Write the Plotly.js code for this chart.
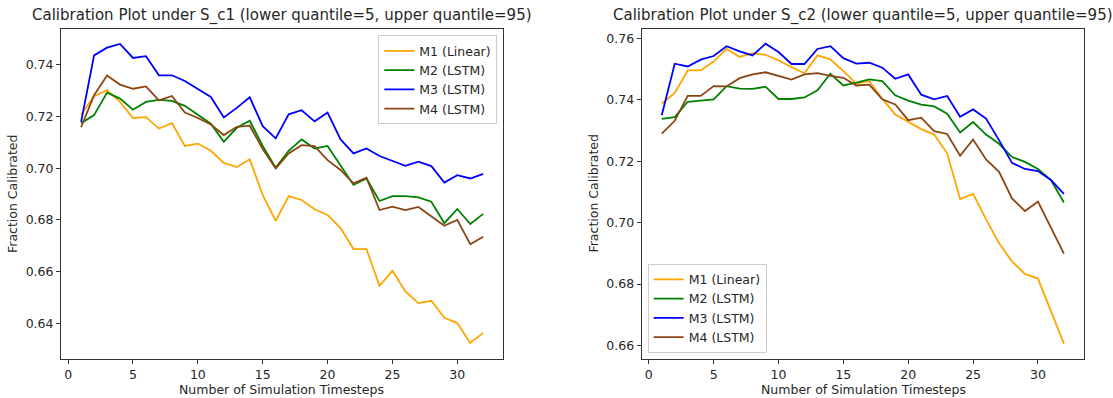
<!DOCTYPE html>
<html>
<head>
<meta charset="utf-8">
<script src="https://cdn.plot.ly/plotly-3.0.1.min.js"></script>
<style>
  html, body { margin: 0; padding: 0; background: #ffffff; }
  #chart { width: 1113px; height: 398px; }
</style>
</head>
<body>
<div id="chart"></div>
<script>
// Simulation timesteps 1..32
const timesteps = [1,2,3,4,5,6,7,8,9,10,11,12,13,14,15,16,17,18,19,20,21,22,23,24,25,26,27,28,29,30,31,32];

const seriesNames = ["M1 (Linear)", "M2 (LSTM)", "M3 (LSTM)", "M4 (LSTM)"];
const seriesColors = ["#ffa500", "#008000", "#0000ff", "#8b4513"];

// Fraction calibrated under S_c1
const c1_m1 = [0.7207,0.7278,0.7301,0.7256,0.7194,0.7197,0.7153,0.7174,0.7086,0.7095,0.7067,0.7020,0.7004,0.7034,0.6896,0.6796,
               0.6892,0.6877,0.6841,0.6819,0.6768,0.6687,0.6687,0.6545,0.6603,0.6523,0.6478,0.6487,0.6421,0.6401,0.6324,0.6363];
const c1_m2 = [0.7174,0.7205,0.7292,0.7269,0.7226,0.7256,0.7264,0.7260,0.7241,0.7205,0.7172,0.7102,0.7156,0.7183,0.7086,0.7002,
               0.7067,0.7111,0.7076,0.7086,0.7012,0.6935,0.6960,0.6873,0.6892,0.6892,0.6887,0.6870,0.6787,0.6842,0.6784,0.6823];
const c1_m3 = [0.7179,0.7436,0.7466,0.7480,0.7426,0.7433,0.7359,0.7359,0.7337,0.7307,0.7275,0.7196,0.7233,0.7274,0.7162,0.7115,
               0.7208,0.7224,0.7181,0.7215,0.7111,0.7057,0.7076,0.7047,0.7029,0.7009,0.7025,0.7008,0.6944,0.6973,0.6960,0.6978];
const c1_m4 = [0.7158,0.7282,0.7358,0.7323,0.7307,0.7316,0.7262,0.7279,0.7215,0.7194,0.7169,0.7128,0.7160,0.7164,0.7074,0.6999,
               0.7057,0.7089,0.7085,0.7031,0.6993,0.6941,0.6963,0.6838,0.6851,0.6838,0.6850,0.6813,0.6777,0.6800,0.6706,0.6735];

// Fraction calibrated under S_c2
const c2_m1 = [0.7388,0.7423,0.7496,0.7496,0.7525,0.7566,0.7540,0.7552,0.7547,0.7529,0.7507,0.7487,0.7545,0.7532,0.7494,0.7453,
               0.7461,0.7404,0.7352,0.7328,0.7305,0.7287,0.7226,0.7077,0.7094,0.7011,0.6933,0.6874,0.6833,0.6818,0.6711,0.6606];
const c2_m2 = [0.7338,0.7344,0.7394,0.7397,0.7402,0.7445,0.7437,0.7436,0.7443,0.7403,0.7403,0.7408,0.7431,0.7485,0.7447,0.7456,
               0.7467,0.7461,0.7415,0.7398,0.7385,0.7379,0.7355,0.7294,0.7328,0.7287,0.7257,0.7214,0.7198,0.7175,0.7139,0.7066];
const c2_m3 = [0.7350,0.7518,0.7509,0.7531,0.7543,0.7575,0.7558,0.7545,0.7583,0.7556,0.7517,0.7517,0.7566,0.7575,0.7536,0.7518,
               0.7521,0.7505,0.7469,0.7483,0.7417,0.7402,0.7413,0.7345,0.7369,0.7339,0.7269,0.7195,0.7175,0.7168,0.7139,0.7094];
const c2_m4 = [0.7290,0.7332,0.7413,0.7413,0.7445,0.7444,0.7471,0.7483,0.7490,0.7478,0.7466,0.7483,0.7487,0.7478,0.7472,0.7447,
               0.7450,0.7402,0.7385,0.7334,0.7342,0.7298,0.7289,0.7218,0.7271,0.7206,0.7166,0.7079,0.7038,0.7069,0.6984,0.6899];

const xTicks = [0, 5, 10, 15, 20, 25, 30];
const yTicksC1 = [0.64, 0.66, 0.68, 0.70, 0.72, 0.74];
const yTicksC2 = [0.66, 0.68, 0.70, 0.72, 0.74, 0.76];

const titleC1 = "Calibration Plot under S_c1 (lower quantile=5, upper quantile=95)";
const titleC2 = "Calibration Plot under S_c2 (lower quantile=5, upper quantile=95)";
const xLabel = "Number of Simulation Timesteps";
const yLabel = "Fraction Calibrated";

const FONT = "DejaVu Sans, sans-serif";
const INK = "#262626";
const SMALL = 12.5;

function makeTraces(seriesList, xa, ya, legendId) {
  return seriesList.map((ys, i) => ({
    type: "scatter",
    mode: "lines",
    x: timesteps,
    y: ys,
    name: seriesNames[i],
    xaxis: xa,
    yaxis: ya,
    legend: legendId,
    line: { color: seriesColors[i], width: 1.8 },
    hoverinfo: "x+y+name"
  }));
}

const data = [
  ...makeTraces([c1_m1, c1_m2, c1_m3, c1_m4], "x", "y", "legend"),
  ...makeTraces([c2_m1, c2_m2, c2_m3, c2_m4], "x2", "y2", "legend2")
];

function xAxis(domain, anchor) {
  return {
    domain: domain, anchor: anchor,
    range: [-0.55, 33.55],
    tickvals: xTicks,
    ticks: "outside", ticklen: 4, tickwidth: 1, tickcolor: "#333",
    showline: true, linecolor: "#333", linewidth: 1, mirror: true,
    showgrid: false, zeroline: false,
    tickfont: { family: FONT, size: SMALL, color: INK }
  };
}
function yAxis(range, ticks, anchor) {
  return {
    domain: [0, 1], anchor: anchor,
    range: range,
    tickvals: ticks, tickformat: ".2f",
    ticks: "outside", ticklen: 4, tickwidth: 1, tickcolor: "#333",
    showline: true, linecolor: "#333", linewidth: 1, mirror: true,
    showgrid: false, zeroline: false,
    tickfont: { family: FONT, size: SMALL, color: INK }
  };
}

const legendStyle = {
  bgcolor: "rgba(255,255,255,0.8)",
  bordercolor: "#cccccc", borderwidth: 1,
  font: { family: FONT, size: SMALL, color: INK },
  tracegroupgap: 0
};

const textFont = (size) => ({ family: FONT, size: size, color: INK });

const layout = {
  width: 1113, height: 398,
  margin: { l: 61, r: 29, t: 29, b: 39, autoexpand: false },
  paper_bgcolor: "#ffffff", plot_bgcolor: "#ffffff",
  showlegend: true,
  xaxis: xAxis([0, 0.4324], "y"),
  yaxis: yAxis([0.6262, 0.7538], yTicksC1, "x"),
  xaxis2: xAxis([0.5676, 1], "y2"),
  yaxis2: yAxis([0.6556, 0.7631], yTicksC2, "x2"),
  legend: Object.assign({ x: 0.4265, y: 0.981, xanchor: "right", yanchor: "top" }, legendStyle),
  legend2: Object.assign({ x: 0.5735, y: 0.019, xanchor: "left", yanchor: "bottom" }, legendStyle),
  annotations: [
    { text: titleC1, xref: "paper", yref: "paper", x: 0.216, y: 1.042, xanchor: "center", yanchor: "middle", showarrow: false, font: textFont(15) },
    { text: titleC2, xref: "paper", yref: "paper", x: 0.784, y: 1.042, xanchor: "center", yanchor: "middle", showarrow: false, font: textFont(15) },
    { text: xLabel, xref: "paper", yref: "paper", x: 0.216, y: -0.091, xanchor: "center", yanchor: "middle", showarrow: false, font: textFont(SMALL) },
    { text: xLabel, xref: "paper", yref: "paper", x: 0.784, y: -0.091, xanchor: "center", yanchor: "middle", showarrow: false, font: textFont(SMALL) },
    { text: yLabel, xref: "paper", yref: "paper", x: -0.0479, y: 0.5, xanchor: "center", yanchor: "middle", textangle: -90, showarrow: false, font: textFont(SMALL) },
    { text: yLabel, xref: "paper", yref: "paper", x: 0.5196, y: 0.5, xanchor: "center", yanchor: "middle", textangle: -90, showarrow: false, font: textFont(SMALL) }
  ]
};

Plotly.newPlot("chart", data, layout, { displayModeBar: false, staticPlot: true });
</script>
</body>
</html>
